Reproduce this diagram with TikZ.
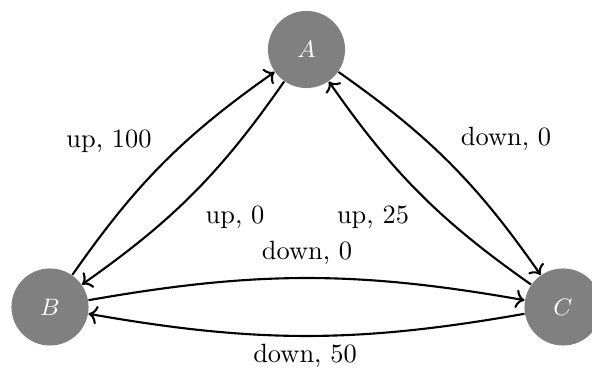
\documentclass[tikz,border=0pt]{standalone}
\usetikzlibrary{arrows.meta}
\begin{document}
\begin{tikzpicture}[x={(0.3788pt,0)}, y={(0,-0.3788pt)},
  state/.style={circle, fill=gray, minimum size=29.2pt, inner sep=0pt, text=white, font=\small},
  trans/.style={->, thick, bend left=10},
  lbl/.style={inner sep=0pt}]
\useasboundingbox (0,0) rectangle (592,369);
\node[state] (A) at (306.5,49.5) {$A$};
\node[state] (B) at (50,307) {$B$};
\node[state] (C) at (563,307) {$C$};
\draw[trans] (B) to (A);
\draw[trans] (A) to (B);
\draw[trans] (A) to (C);
\draw[trans] (C) to (A);
\draw[trans] (B) to (C);
\draw[trans] (C) to (B);
\node[lbl] (l1) at (109,141.5) {up, 100};
\node[lbl] (l2) at (235,217) {up, 0};
\node[lbl] (l3) at (506,139) {down, 0};
\node[lbl] (l4) at (373,217) {up, 25};
\node[lbl] (l5) at (307,253) {down, 0};
\node[lbl] (l6) at (305,356) {down, 50};
\end{tikzpicture}
\end{document}
